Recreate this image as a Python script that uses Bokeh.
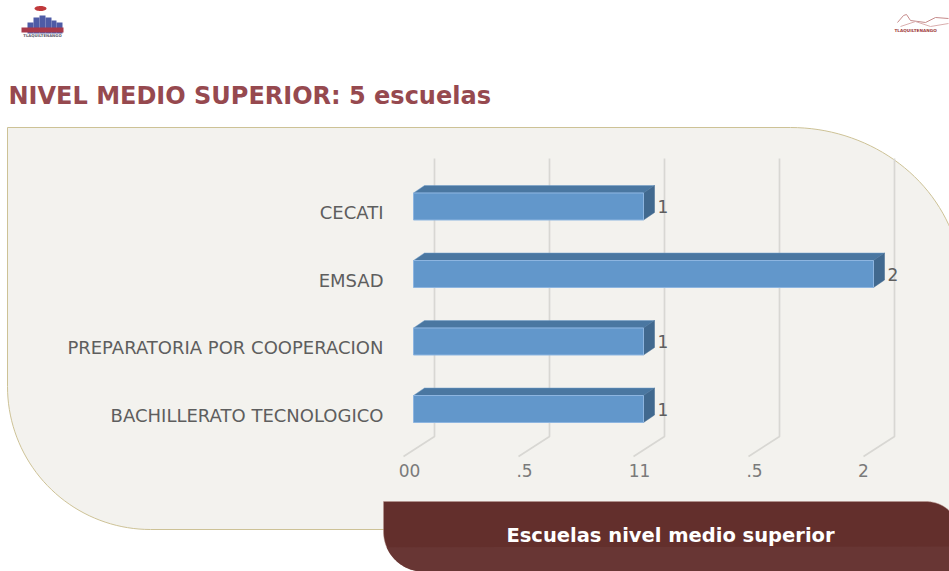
import numpy as np
from bokeh.plotting import figure
from bokeh.models import Range1d, ColumnDataSource
from bokeh.core.properties import value
from bokeh.embed import file_html
from bokeh.resources import INLINE

categories = ["BACHILLERATO TECNOLOGICO", "PREPARATORIA POR COOPERACION", "EMSAD", "CECATI"]
escuelas = [1, 1, 2, 1]
tick_values = [0, 0.5, 1, 1.5, 2]
tick_labels = ["00", ".5", "11", ".5", "2"]
title_text = "NIVEL MEDIO SUPERIOR: 5 escuelas"
caption_text = "Escuelas nivel medio superior"

FONT = "DejaVu Sans"
W, H = 949, 571
PX_PER_UNIT = 230.0
PX_PER_CAT = 67.5
X0_PX, Y0_PX = 413.0, 408.5

p = figure(
    width=W, height=H, output_backend="svg", toolbar_location=None,
    x_range=Range1d((0 - X0_PX) / PX_PER_UNIT, (W - X0_PX) / PX_PER_UNIT),
    y_range=Range1d((Y0_PX - H) / PX_PER_CAT, Y0_PX / PX_PER_CAT),
    x_axis_location=None, y_axis_location=None, min_border=0,
    background_fill_color="white", border_fill_color="white",
)
p.outline_line_color = None
p.grid.visible = False
p.extra_x_ranges["px"] = Range1d(0, W)
p.extra_y_ranges["px"] = Range1d(H, 0)
PX = dict(x_range_name="px", y_range_name="px")


def arc(cx, cy, rx, ry, a0, a1, n=40):
    t = np.radians(np.linspace(a0, a1, n))
    return list(cx + rx * np.cos(t)), list(cy + ry * np.sin(t))


# ---- background panel
ax1, ay1 = arc(790, 287, 172, 160, -90, 0)
ax2, ay2 = arc(150, 386, 143, 143, 90, 180)
panel_x = [7] + ax1 + [962, 962] + ax2
panel_y = [127] + ay1 + [529, 529] + ay2
p.patch(panel_x, panel_y, fill_color="#F3F2EE", line_color="#CDC296", line_width=1, **PX)

# ---- caption box (two tones, as in the reference)
bx1, by1 = arc(925, 525, 30, 24, -90, 0)
bx2, by2 = arc(423, 531, 40, 40, 90, 180)
box_x = [383] + bx1 + [960, 960] + bx2
box_y = [501] + by1 + [580, 580] + by2
p.patch(box_x, box_y, fill_color="#632F2C", line_color="#B9958C", line_width=0.5, **PX)
low = [(x, y) for x, y in zip(bx2, by2) if y >= 546]
low_x = [960, 960] + [q[0] for q in low]
low_y = [546, 580] + [q[1] for q in low]
p.patch(low_x, low_y, fill_color="#683634", line_color=None, **PX)
p.text([670], [535], text=[caption_text], text_align="center", text_baseline="middle",
       text_color="white", text_font=value(FONT), text_font_style="bold",
       text_font_size="19.5px", **PX)

# ---- title
p.text([8], [95], text=[title_text], text_align="left", text_baseline="middle",
       text_color="#96494F", text_font=value(FONT), text_font_style="bold",
       text_font_size="24px", **PX)

# ---- 3-D gridlines (back wall + floor)
DX, DY = 11 / PX_PER_UNIT, 7.5 / PX_PER_CAT
back = 21 / PX_PER_UNIT
front = -10 / PX_PER_UNIT
y_top = (Y0_PX - 158) / PX_PER_CAT
y_mid = (Y0_PX - 436) / PX_PER_CAT
y_low = (Y0_PX - 456) / PX_PER_CAT
for t in tick_values:
    p.line([t + back, t + back, t + front], [y_top, y_mid, y_low],
           line_color="#D8D7D3", line_width=1.7)

# ---- 3-D bars
half = 13.5 / PX_PER_CAT
idx = list(range(len(categories)))
front_xs = [[0, v, v, 0] for v in escuelas]
front_ys = [[i - half, i - half, i + half, i + half] for i in idx]
top_xs = [[0, v, v + DX, DX] for v in escuelas]
top_ys = [[i + half, i + half, i + half + DY, i + half + DY] for i in idx]
side_xs = [[v, v + DX, v + DX, v] for v in escuelas]
side_ys = [[i - half, i - half + DY, i + half + DY, i + half] for i in idx]
p.patches(top_xs, top_ys, fill_color="#4A77A1", line_color="#6F9CC8", line_width=0.5)
p.patches(side_xs, side_ys, fill_color="#41698F", line_color="#41698F", line_width=0.5)
p.patches(front_xs, front_ys, fill_color="#6297CB", line_color="#8DB5E0", line_width=1)

# ---- labels
src = ColumnDataSource(dict(x=[0] * len(idx), y=idx, v=escuelas, cat=categories,
                            lab=[str(v) for v in escuelas]))
p.text("x", "y", text="cat", source=src, x_offset=-30, y_offset=6, text_align="right",
       text_baseline="middle", text_color="#5E5E5E", text_font=value(FONT),
       text_font_size="18px")
p.text("v", "y", text="lab", source=src, x_offset=14, y_offset=0, text_align="left",
       text_baseline="middle", text_color="#5E5E5E", text_font=value(FONT),
       text_font_size="17px")

# ---- value axis labels (below the floor)
p.text(tick_values[:4], [470] * 4, text=tick_labels[:4], x_offset=-4, text_align="center",
       text_baseline="middle", text_color="#7A7A7A", text_font=value(FONT),
       text_font_size="17px", x_range_name="default", y_range_name="px")
p.text(tick_values[4:], [470], text=tick_labels[4:], x_offset=-10, text_align="center",
       text_baseline="middle", text_color="#7A7A7A", text_font=value(FONT),
       text_font_size="17px", x_range_name="default", y_range_name="px")

# ---- left logo
p.patch(*arc(40, 8, 6, 2.5, 0, 360), fill_color="#C0393B", line_color=None, **PX)
p.quad(left=[27, 33, 39, 45, 51, 56], right=[33, 39, 45, 51, 56, 62],
       top=[22, 17, 15, 17, 20, 22], bottom=[33] * 6, fill_color="#4E5BA6", line_color=None, **PX)
p.quad(left=[21], right=[63], top=[27], bottom=[32], fill_color="#A8394A", line_color=None, **PX)
p.text([42], [34.5], text=["TLAQUILTENANGO"], text_align="center", text_baseline="middle",
       text_color="#555566", text_font=value(FONT), text_font_size="3.8px", text_font_style="bold", **PX)

# ---- right logo
p.line([897, 903, 906, 910, 925, 935, 948], [22, 15, 14, 20, 22, 17, 18], line_color="#C58A8A", line_width=1, **PX)
p.line([900, 915, 930, 948], [26, 21, 26, 23], line_color="#D9AEAE", line_width=1, **PX)
p.text([894], [29.5], text=["TLAQUILTENANGO"], text_align="left", text_baseline="middle",
       text_color="#A03A3A", text_font=value(FONT), text_font_size="4.2px", text_font_style="bold", **PX)

open("out.html", "w").write(file_html(p, INLINE))
